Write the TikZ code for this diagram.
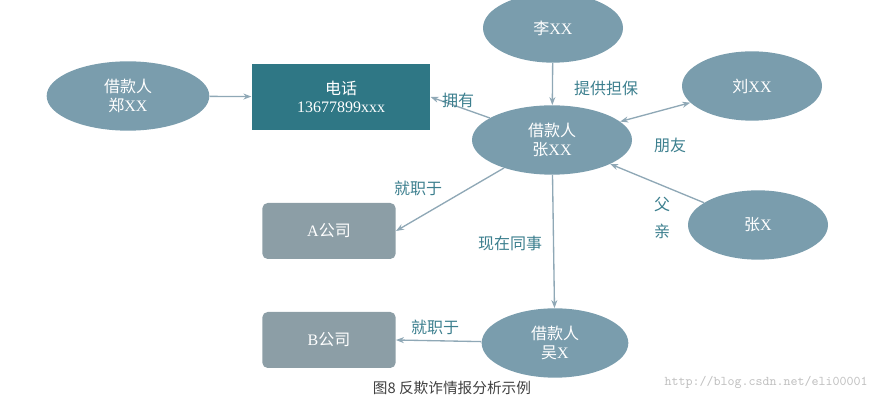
\documentclass[tikz,border=0pt]{standalone}
\usepackage{fontspec}
\setmainfont{Liberation Serif}
\newfontfamily\cjk{Noto Sans CJK SC}
\usetikzlibrary{shapes.geometric,arrows.meta}
\definecolor{ell}{HTML}{7A9DAD}
\definecolor{phone}{HTML}{2F7785}
\definecolor{comp}{HTML}{8C9EA6}
\definecolor{edge}{HTML}{8FA8B6}
\definecolor{lab}{HTML}{3C7F8E}
\tikzset{
 person/.style={ellipse,fill=ell,text=white,minimum width=#1,minimum height=52,inner sep=0pt,align=center,font=\fontsize{12}{14}\selectfont},
 company/.style={rounded corners=4,fill=comp,text=white,minimum width=100,minimum height=42,font=\fontsize{12}{14}\selectfont},
 conn/.style={draw=edge,line width=1pt,-{Stealth[length=6pt]}},
 lbl/.style={text=lab,font=\cjk\fontsize{12}{14}\selectfont,align=center}
}
\begin{document}
\begin{tikzpicture}[x=0.75pt,y=-0.75pt]
\useasboundingbox (0,0) rectangle (876,402);
\node[person=105] (li) at (553,28) {{\cjk 李}XX};
\node[person=122] (zheng) at (128,96) {{\cjk 借款人}\\{\cjk 郑}XX};
\node[fill=phone,text=white,minimum width=134,minimum height=50,align=center,inner sep=0pt,font=\fontsize{12}{14}\selectfont] (phone) at (341,97) {{\cjk 电话}\\13677899xxx};
\node[person=120] (zhangxx) at (552,140) {{\cjk 借款人}\\{\cjk 张}XX};
\node[person=105] (liu) at (752,86) {{\cjk 刘}XX};
\node[person=105] (zhangx) at (758,225) {{\cjk 张}X};
\node[company] (a) at (329,231) {A{\cjk 公司}};
\node[company] (b) at (329,340) {B{\cjk 公司}};
\node[person=110] (wu) at (555,343) {{\cjk 借款人}\\{\cjk 吴}X};
\draw[conn] (zheng) -- (phone);
\draw[conn] (zhangxx) -- (phone.east);
\draw[conn] (li) -- (zhangxx);
\draw[conn,{Stealth[length=6pt]}-{Stealth[length=6pt]}] (zhangxx) -- (liu);
\draw[conn] (zhangx) -- (zhangxx);
\draw[conn] (zhangxx) -- (a.east);
\draw[conn] (zhangxx) -- (wu);
\draw[conn] (wu) -- (b.east);
\node[lbl] (l1) at (458,100) {拥有};
\node[lbl] (l2) at (606,88) {提供担保};
\node[lbl] (l3) at (670,145) {朋友};
\node[lbl,font=\cjk\fontsize{12}{20}\selectfont] (l4) at (662,218) {父\\亲};
\node[lbl] (l5) at (418,188) {就职于};
\node[lbl] (l6) at (510,243) {现在同事};
\node[lbl] (l7) at (435,327) {就职于};
\node[text=black!75,font=\cjk\fontsize{11}{13}\selectfont] (cap) at (452,388) {图8\ 反欺诈情报分析示例};
\node[text=black!25,font=\ttfamily\fontsize{10}{12}\selectfont] (wm) at (766,382) {http://blog.csdn.net/eli00001};
\end{tikzpicture}
\end{document}
